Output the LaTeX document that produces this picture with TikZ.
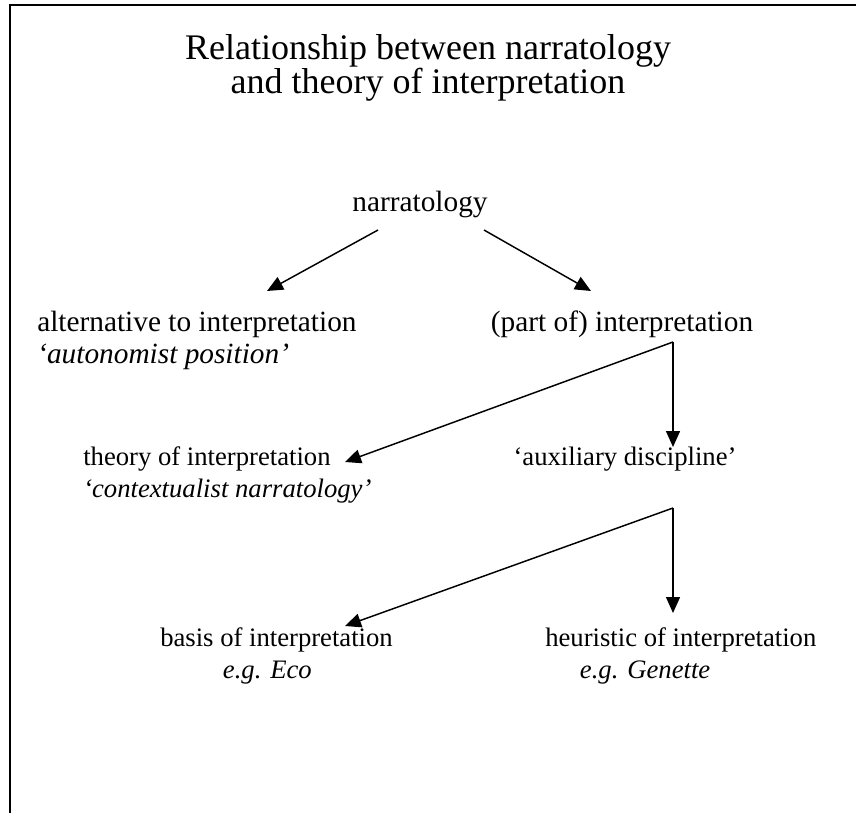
\documentclass[tikz,border=0pt]{standalone}
\usepackage{fontspec}
\setmainfont{Liberation Serif}
\usepackage{tikz}
\usetikzlibrary{arrows.meta}

\tikzset{
  lbl/.style={inner sep=0pt, font=\fontsize{22}{24}\selectfont},
  sublbl/.style={inner sep=0pt, font=\fontsize{20}{24.5}\selectfont},
  arr/.style={-{Triangle[length=12pt, width=10.5pt]}, line width=1.1pt}
}

\begin{document}
\begin{tikzpicture}[x=0.75pt, y=-0.75pt]
    \useasboundingbox (0,0) rectangle (856,813);

    % frame
    \draw[line width=0.8pt] (856,5) -- (10,5) -- (10,813);

    % title
    \node[inner sep=0pt, align=center, font=\fontsize{27}{25}\selectfont]
      (title) at (428,68) {Relationship between narratology\\and theory of interpretation};

    % nodes
    \node[lbl] (narr) at (420,204) {narratology};
    \node[lbl, anchor=west, align=left] (alt) at (37,340)
      {alternative to interpretation\\\textit{`autonomist position'}};
    \node[lbl] (part) at (622,324) {(part of) interpretation};
    \node[sublbl, anchor=west, align=left] (theory) at (83,475)
      {theory of interpretation\\\textit{`contextualist narratology'}};
    \node[sublbl] (aux) at (625,459) {`auxiliary discipline'};
    \node[sublbl, anchor=west, align=left] (basis) at (160,656)
      {basis of interpretation\\\hspace*{2.35em}\textit{e.g. Eco}};
    \node[sublbl, anchor=west, align=left] (heur) at (545,656)
      {heuristic of interpretation\\\hspace*{1.3em}\textit{e.g. Genette}};

    % connector points
    \coordinate (n1) at (378,230);
    \coordinate (n2) at (484,230);
    \coordinate (j1) at (673,342);
    \coordinate (j2) at (673,508);

    \draw[arr] (n1) -- (267,291) coordinate (altTip);
    \draw[arr] (n2) -- (591,291) coordinate (partTip);
    \draw[arr] (j1) -- (345,462) coordinate (theoryTip);
    \draw[arr] (j1) -- (673,447) coordinate (auxTip);
    \draw[arr] (j2) -- (345,626) coordinate (basisTip);
    \draw[arr] (j2) -- (673,613) coordinate (heurTip);
\end{tikzpicture}
\end{document}
